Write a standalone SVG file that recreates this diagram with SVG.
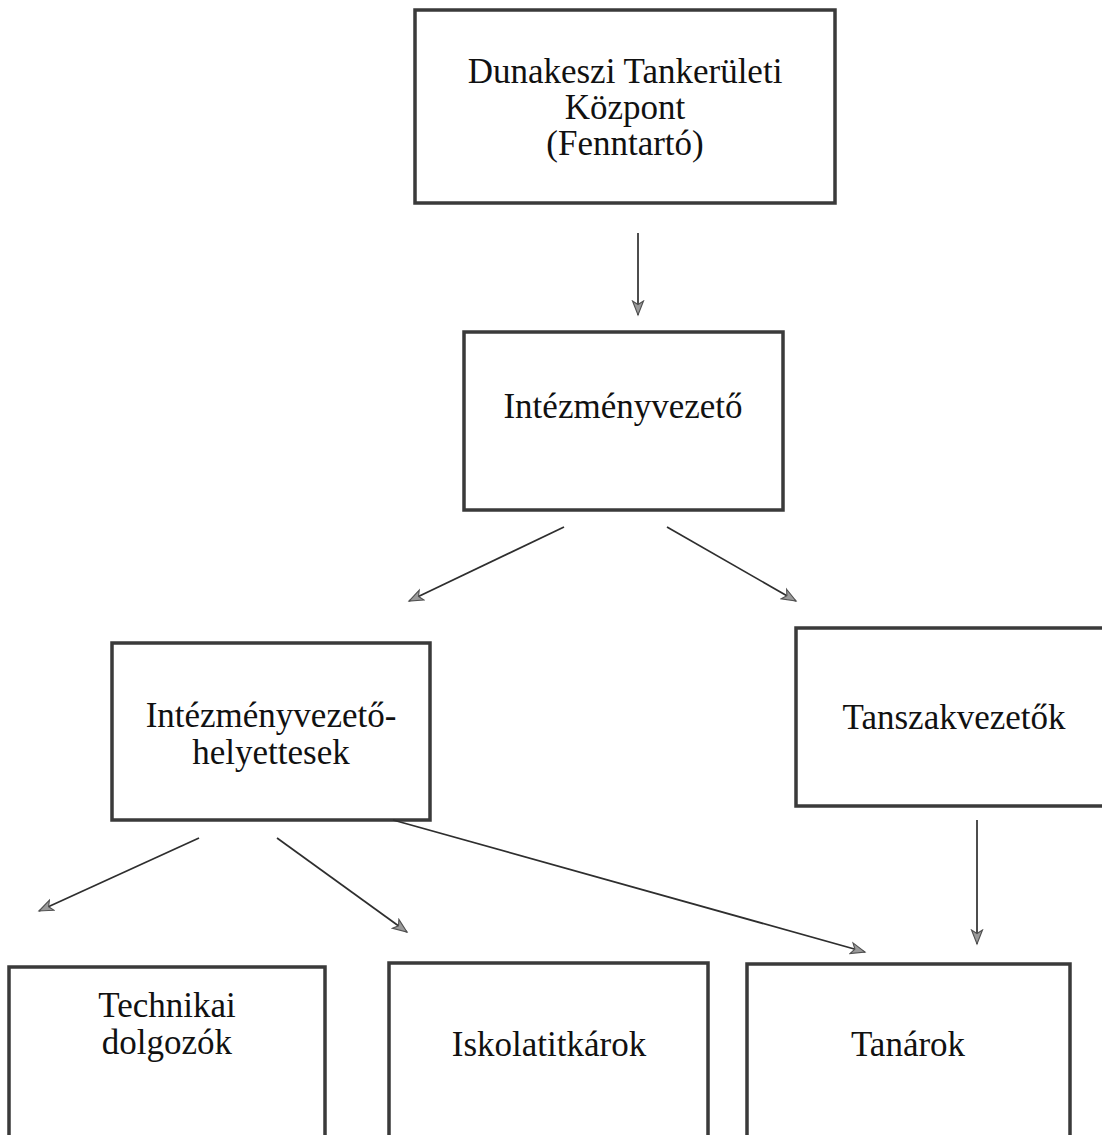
<svg xmlns="http://www.w3.org/2000/svg" width="1102" height="1135" viewBox="0 0 1102 1135">
<defs>
<style>
.box{fill:#ffffff;stroke:#3a3a3a;stroke-width:3.5}
.lbl{font-family:"Liberation Serif","Times New Roman",serif;font-size:35px;fill:#111;text-anchor:middle}
.conn{stroke:#2e2e2e;stroke-width:1.7;fill:none}
</style>
<marker id="ah" markerUnits="userSpaceOnUse" markerWidth="18" markerHeight="14" refX="15" refY="7" orient="auto">
<path d="M1,1.5 L15,7 L1,12.5 L4.5,7 Z" fill="#9a9a9a" stroke="#505050" stroke-width="1.1"/>
</marker>
</defs>
<rect width="1102" height="1135" fill="#ffffff"/>
<g id="n-dunakeszi">
<rect class="box" x="415" y="10" width="420" height="193"/>
<text class="lbl" x="625" y="83">Dunakeszi Tankerületi</text>
<text class="lbl" x="625" y="119">Központ</text>
<text class="lbl" x="625" y="155">(Fenntartó)</text>
</g>
<g id="n-intezmenyvezeto">
<rect class="box" x="464" y="332" width="319" height="178"/>
<text class="lbl" x="623" y="418">Intézményvezető</text>
</g>
<g id="n-helyettesek">
<rect class="box" x="112" y="643" width="318" height="177"/>
<text class="lbl" x="271" y="727">Intézményvezető-</text>
<text class="lbl" x="271" y="764">helyettesek</text>
</g>
<g id="n-tanszakvezetok">
<rect class="box" x="796" y="628" width="316" height="178"/>
<text class="lbl" x="954" y="729">Tanszakvezetők</text>
</g>
<g id="n-technikai">
<rect class="box" x="9" y="967" width="316" height="200"/>
<text class="lbl" x="167" y="1017">Technikai</text>
<text class="lbl" x="167" y="1054">dolgozók</text>
</g>
<g id="n-iskolatitkarok">
<rect class="box" x="389" y="963" width="319" height="200"/>
<text class="lbl" x="549" y="1056">Iskolatitkárok</text>
</g>
<g id="n-tanarok">
<rect class="box" x="747" y="964" width="323" height="200"/>
<text class="lbl" x="908" y="1056">Tanárok</text>
</g>
<g id="connectors">
<line class="conn" x1="638" y1="233" x2="638" y2="315" marker-end="url(#ah)"/>
<line class="conn" x1="564" y1="527" x2="409" y2="601" marker-end="url(#ah)"/>
<line class="conn" x1="667" y1="527" x2="796" y2="601" marker-end="url(#ah)"/>
<line class="conn" x1="199" y1="838" x2="39" y2="911" marker-end="url(#ah)"/>
<line class="conn" x1="277" y1="838" x2="407" y2="932" marker-end="url(#ah)"/>
<line class="conn" x1="393" y1="820" x2="865" y2="952" marker-end="url(#ah)"/>
<line class="conn" x1="977" y1="820" x2="977" y2="944" marker-end="url(#ah)"/>
</g>
</svg>
